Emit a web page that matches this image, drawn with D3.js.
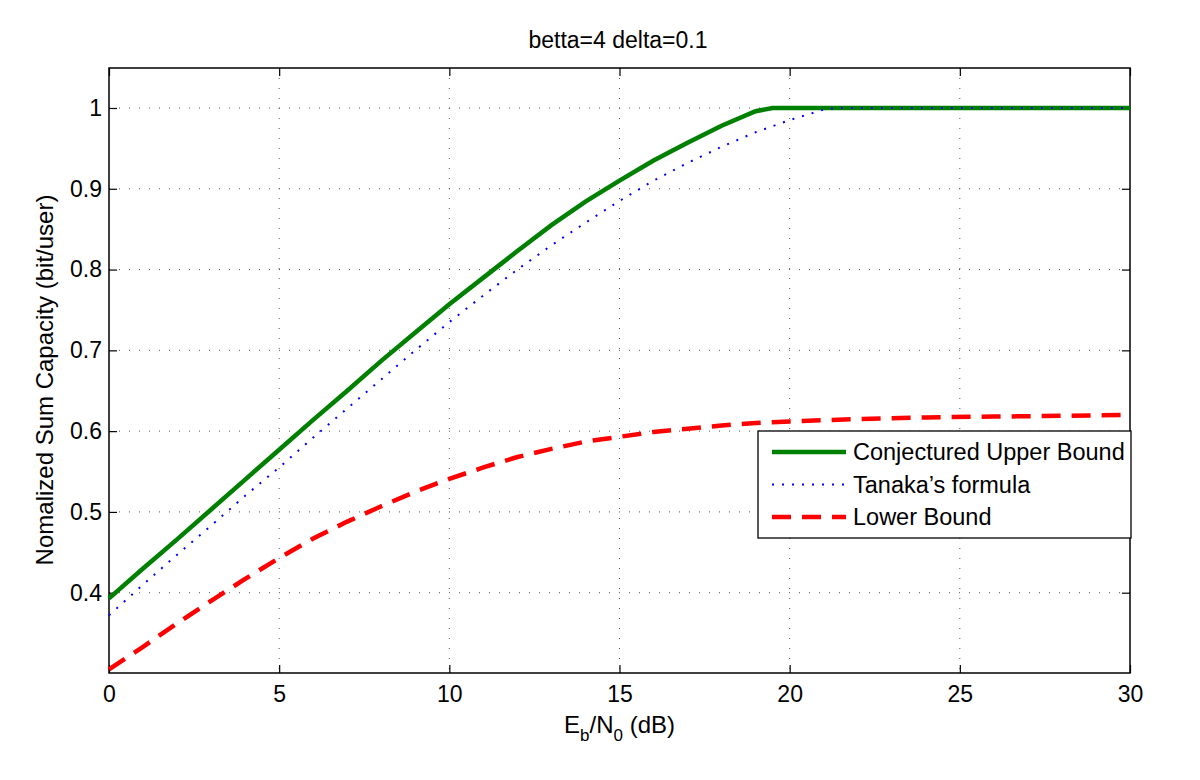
<!DOCTYPE html>
<html>
<head>
<meta charset="utf-8">
<script src="https://cdn.jsdelivr.net/npm/d3@7"></script>
<style>
  body { margin: 0; background: #fff; }
  text { font-family: "Liberation Sans", Arial, sans-serif; fill: #000; }
  .axis text { font-size: 23px; }
</style>
</head>
<body>
<script>
// Eb/N0 (dB) sample points
const xUpper = [0,1,2,3,4,5,6,7,8,9,10,11,12,13,14,15,16,17,18,19,19.5,20,25,30];
const yUpper = [0.393,0.43,0.466,0.503,0.54,0.577,0.614,0.65,0.687,0.722,0.757,0.79,0.823,0.855,0.884,0.91,0.935,0.957,0.978,0.996,1.0,1.0,1.0,1.0];

const xTanaka = [0,1,2,3,4,5,6,7,8,9,10,11,12,13,14,15,16,17,18,19,20,21,21.4,25,30];
const yTanaka = [0.372,0.41,0.447,0.483,0.52,0.555,0.592,0.628,0.664,0.70,0.735,0.768,0.80,0.83,0.858,0.885,0.91,0.932,0.952,0.97,0.985,0.998,1.0,1.0,1.0];

const xLower = [0,1,2,3,4,5,6,7,8,9,10,11,12,13,14,15,16,17,18,19,20,22,24,26,28,30];
const yLower = [0.305,0.333,0.362,0.39,0.417,0.443,0.467,0.488,0.507,0.525,0.541,0.555,0.568,0.578,0.587,0.593,0.599,0.603,0.607,0.61,0.612,0.615,0.617,0.618,0.619,0.62];

const xTicks = [0,5,10,15,20,25,30];
const yTicks = [0.4,0.5,0.6,0.7,0.8,0.9,1];

const seriesNames = ["Conjectured Upper Bound", "Tanaka\u2019s formula", "Lower Bound"];

const margin = {top: 68, right: 70, bottom: 107, left: 109};
const width = 1200 - margin.left - margin.right;
const height = 780 - margin.top - margin.bottom;

const svg = d3.select("body").append("svg")
    .attr("width", 1200)
    .attr("height", 780);

const g = svg.append("g")
    .attr("transform", "translate(" + margin.left + "," + margin.top + ")");

const xScale = d3.scaleLinear().domain([0, 30]).range([0, width]);
const yScale = d3.scaleLinear().domain([0.3006, 1.0495]).range([height, 0]);

// grid
g.selectAll(".vgrid").data(xTicks.slice(1, -1)).enter().append("line")
    .attr("x1", d => xScale(d)).attr("x2", d => xScale(d))
    .attr("y1", 0).attr("y2", height)
    .attr("stroke", "#555").attr("stroke-width", 1)
    .attr("stroke-dasharray", "1,9");

g.selectAll(".hgrid").data(yTicks).enter().append("line")
    .attr("x1", 0).attr("x2", width)
    .attr("y1", d => yScale(d)).attr("y2", d => yScale(d))
    .attr("stroke", "#555").attr("stroke-width", 1)
    .attr("stroke-dasharray", "1,9");

// axes (matlab style, ticks inward)
g.append("g")
    .attr("class", "axis")
    .attr("transform", "translate(0," + height + ")")
    .call(d3.axisBottom(xScale).tickValues(xTicks).tickSize(-8).tickPadding(13).tickFormat(d3.format("d")))
    .attr("font-size", 23).attr("font-family", "Liberation Sans, Arial, sans-serif");
g.append("g")
    .attr("class", "axis")
    .call(d3.axisLeft(yScale).tickValues(yTicks).tickSize(-8).tickPadding(7).tickFormat(d => d === 1 ? "1" : d3.format(".1f")(d)))
    .attr("font-size", 23).attr("font-family", "Liberation Sans, Arial, sans-serif");
g.append("g")
    .call(d3.axisTop(xScale).tickValues(xTicks).tickSize(-8).tickFormat(""));
g.append("g")
    .attr("transform", "translate(" + width + ",0)")
    .call(d3.axisRight(yScale).tickValues(yTicks).tickSize(-8).tickFormat(""));

svg.selectAll(".domain").remove();
svg.selectAll(".tick line").attr("stroke", "#000").attr("stroke-width", 1.2);

g.append("rect")
    .attr("x", 0).attr("y", 0).attr("width", width).attr("height", height)
    .attr("fill", "none").attr("stroke", "#000").attr("stroke-width", 1.5);

// lines
const line = d3.line().x(d => xScale(d[0])).y(d => yScale(d[1]));

g.append("path")
    .datum(d3.zip(xLower, yLower))
    .attr("d", line)
    .attr("fill", "none").attr("stroke", "#ff0000").attr("stroke-width", 4.5)
    .attr("stroke-dasharray", "19,11");

g.append("path")
    .datum(d3.zip(xUpper, yUpper))
    .attr("d", line)
    .attr("fill", "none").attr("stroke", "#008000").attr("stroke-width", 4.5);

g.append("path")
    .datum(d3.zip(xTanaka, yTanaka))
    .attr("d", line)
    .attr("fill", "none").attr("stroke", "#0000ff").attr("stroke-width", 2)
    .attr("stroke-dasharray", "2,8");

// title
svg.append("text")
    .attr("x", 618)
    .attr("y", 48)
    .attr("text-anchor", "middle")
    .style("font-size", "23px")
    .text("betta=4 delta=0.1");

// x label
const xl = svg.append("text")
    .attr("x", margin.left + width / 2)
    .attr("y", 733)
    .attr("text-anchor", "middle")
    .style("font-size", "24px");
xl.append("tspan").text("E");
xl.append("tspan").attr("dy", 8).style("font-size", "17px").text("b");
xl.append("tspan").attr("dy", -8).text("/N");
xl.append("tspan").attr("dy", 8).style("font-size", "17px").text("0");
xl.append("tspan").attr("dy", -8).text(" (dB)");

// y label
svg.append("text")
    .attr("transform", "translate(53,380) rotate(-90)")
    .attr("text-anchor", "middle")
    .style("font-size", "24px")
    .text("Nomalized Sum Capacity (bit/user)");

// legend
const legend = svg.append("g").attr("transform", "translate(758,431)");
legend.append("rect")
    .attr("width", 373).attr("height", 107)
    .attr("fill", "#fff").attr("stroke", "#000").attr("stroke-width", 1.3);

const legStyles = [
    {color: "#008000", width: 4.5, dash: null},
    {color: "#0000ff", width: 2, dash: "2,8"},
    {color: "#ff0000", width: 4.5, dash: "19,11"}
];

const rows = legend.selectAll(".leg").data(seriesNames).enter().append("g")
    .attr("transform", (d, i) => "translate(0," + (21 + i * 32.5) + ")");

rows.append("line")
    .attr("x1", 14).attr("x2", 88)
    .attr("stroke", (d, i) => legStyles[i].color)
    .attr("stroke-width", (d, i) => legStyles[i].width)
    .attr("stroke-dasharray", (d, i) => legStyles[i].dash);

rows.append("text")
    .attr("x", 95).attr("dy", "0.35em")
    .style("font-size", "23.5px")
    .text(d => d);
</script>
</body>
</html>
